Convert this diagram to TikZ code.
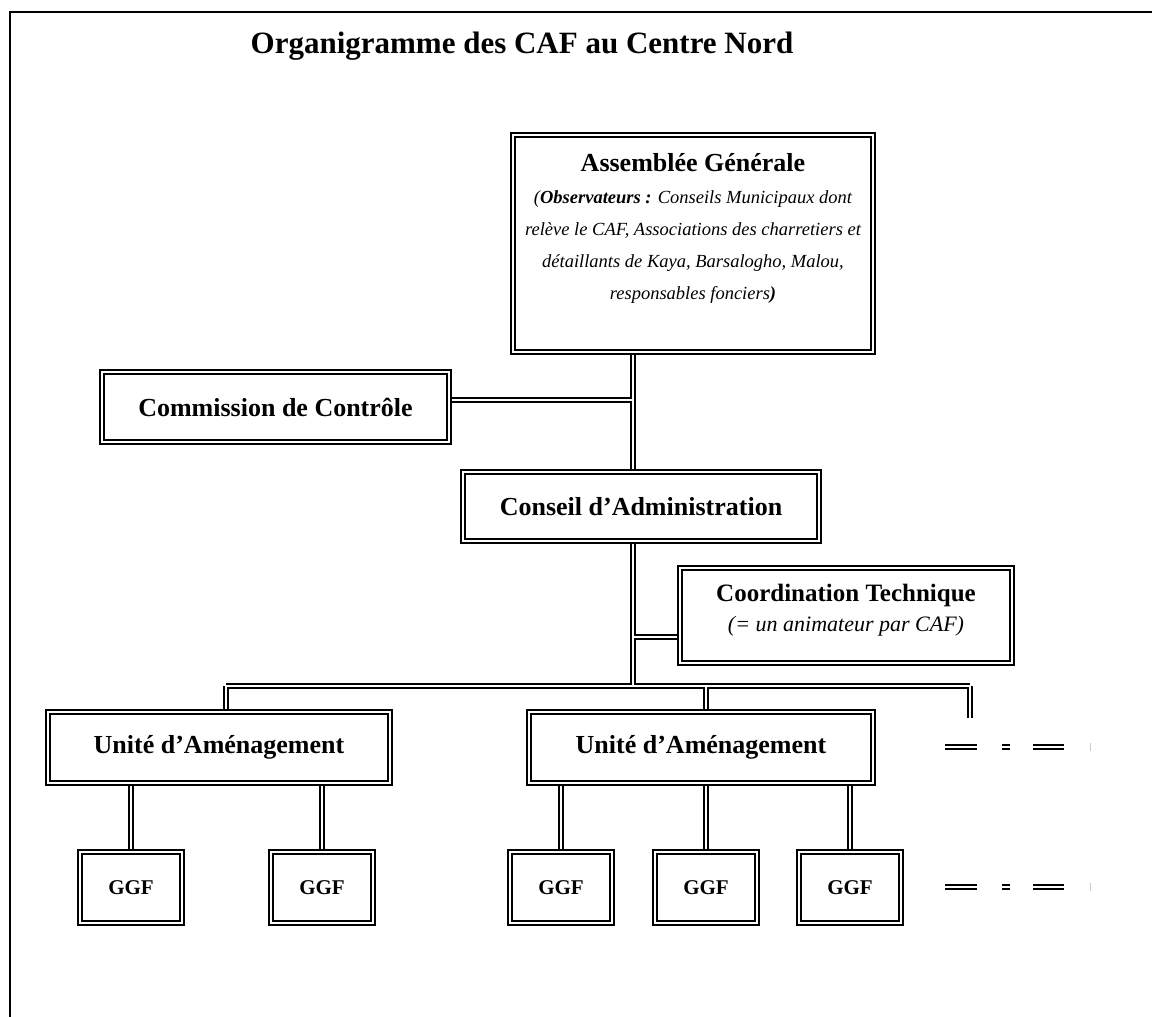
\documentclass[tikz,border=0pt]{standalone}
\usepackage{fontspec}
\setmainfont{Liberation Serif}
\usetikzlibrary{backgrounds}
\begin{document}
\begin{tikzpicture}[x=1pt,y=-1pt,
  dbl/.style={draw=black, double=white, double distance=2.2pt, line width=1.7pt},
  boxn/.style={dbl, fill=white, rectangle, inner sep=0pt},
  bl/.style={font=\fontsize{26}{30}\selectfont\bfseries, align=center},
  it/.style={font=\fontsize{18.5}{32}\selectfont\itshape, align=center},
  link/.style={dbl}]
\useasboundingbox (0,0) rectangle (1152,1017);
\draw[line width=2pt] (10,1017) -- (10,12) -- (1152,12);
\node[font=\fontsize{31}{36}\selectfont\bfseries] (title) at (522,46) {Organigramme des CAF au Centre Nord};

\node[boxn, minimum width=360pt, minimum height=217pt] (ag) at (693,243.5) {};
\node[it, anchor=north] (agt) at (693,150) {{\bfseries\fontsize{26}{30}\selectfont\upshape Assemblée Générale}\\[0pt]
(\textbf{Observateurs :} Conseils Municipaux dont\\
relève le CAF, Associations des charretiers et\\
détaillants de Kaya, Barsalogho, Malou,\\
responsables fonciers\textbf{)}};

\node[boxn, bl, minimum width=347pt, minimum height=70pt] (com) at (275.5,407) {Commission de Contrôle};
\node[boxn, bl, minimum width=356pt, minimum height=69pt] (cons) at (641,506.5) {Conseil d’Administration};
\node[boxn, minimum width=332pt, minimum height=95pt] (coord) at (846,615.5) {};
\node[bl, font=\fontsize{25}{30}\selectfont\bfseries] (coordt) at (846,595) {Coordination Technique};
\node[it, font=\fontsize{22}{26}\selectfont\itshape] (coordi) at (846,626) {(= un animateur par CAF)};

\node[boxn, bl, minimum width=342pt, minimum height=71pt] (u1) at (219,747.5) {Unité d’Aménagement};
\node[boxn, bl, minimum width=344pt, minimum height=71pt] (u2) at (701,747.5) {Unité d’Aménagement};

\tikzset{ggf/.style={boxn, font=\fontsize{21}{24}\selectfont\bfseries, minimum width=102pt, minimum height=71pt}}
\node[ggf] (g1) at (131,887.5) {GGF};
\node[ggf] (g2) at (322,887.5) {GGF};
\node[ggf] (g3) at (561,887.5) {GGF};
\node[ggf] (g4) at (706,887.5) {GGF};
\node[ggf] (g5) at (850,887.5) {GGF};

\coordinate (trunk) at (633,686);
\coordinate (cc) at (633,400);
\coordinate (cj) at (633,637);
\coordinate (bl) at (226,686);
\coordinate (bm) at (706,686);
\coordinate (br) at (970,686);
\coordinate (brs) at (970,718);

\begin{pgfonlayer}{background}
\draw[link] (ag.south -| trunk) -- (trunk) (cc) -- (cc -| com.east)
  (cj) -- (cj -| coord.west)
  (bl) -- (br) (bl) -- (bl |- u1.north) (bm) -- (bm |- u2.north) (br) -- (brs);
\draw[link] (u1.south -| g1.north) -- (g1.north)
  (u1.south -| g2.north) -- (g2.north)
  (u2.south -| g3.north) -- (g3.north)
  (u2.south -| g4.north) -- (g4.north)
  (u2.south -| g5.north) -- (g5.north);
\end{pgfonlayer}

\foreach \y in {747,887}{
  \draw[dbl] (945,\y) -- (977,\y);
  \draw[dbl] (1002,\y) -- (1010,\y);
  \draw[dbl] (1033,\y) -- (1064,\y);
  \draw[draw=gray!40, line width=1pt] (1090,\y-4) -- (1090,\y+4);
}
\end{tikzpicture}
\end{document}
